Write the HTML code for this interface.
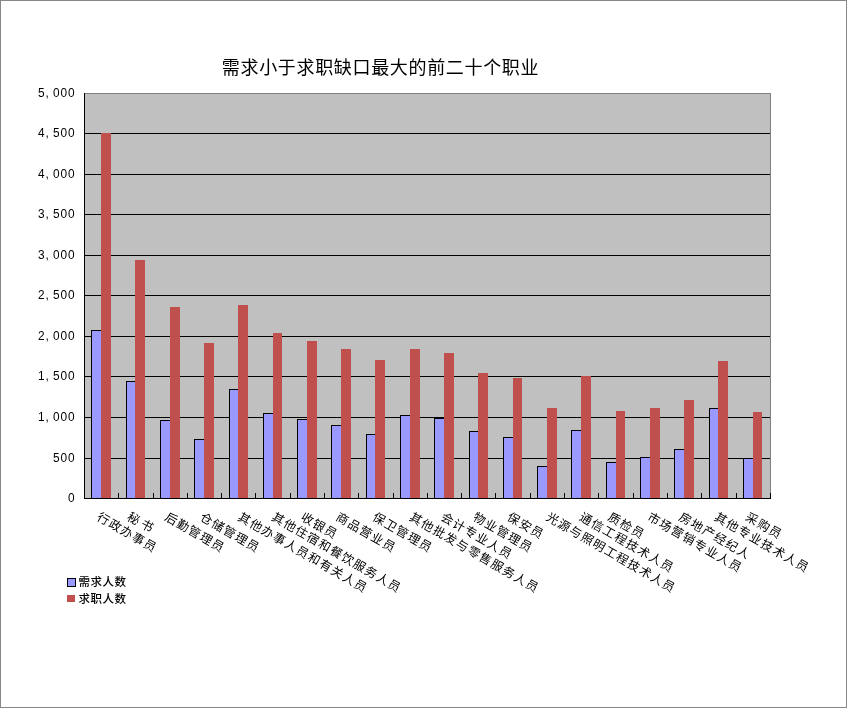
<!DOCTYPE html>
<html><head><meta charset="utf-8"><title>需求小于求职缺口最大的前二十个职业</title>
<style>
html,body{margin:0;padding:0;background:#fff;}
body{width:848px;height:708px;overflow:hidden;}
svg{display:block;}
text{fill:#000;}
.t{font-family:"Liberation Sans","Noto Sans CJK SC",sans-serif;dominant-baseline:central;}
.y{font-family:"Liberation Sans",sans-serif;font-size:13.5px;}
.x{font-family:"Liberation Sans","Noto Sans CJK SC",sans-serif;font-size:12.2px;letter-spacing:1.2px;dominant-baseline:central;}
.l{font-family:"Liberation Sans","Noto Sans CJK SC",sans-serif;font-size:11.5px;letter-spacing:0.5px;font-weight:500;dominant-baseline:central;}
</style></head><body>
<svg width="848" height="708" viewBox="0 0 848 708" shape-rendering="crispEdges">
<rect x="0.5" y="0.5" width="846" height="707" fill="#fff" stroke="#878787" stroke-width="1"/>
<rect x="84" y="93" width="687" height="406" fill="#C0C0C0"/>
<rect x="84" y="93" width="687" height="1" fill="#808080"/>
<rect x="770" y="93" width="1" height="406" fill="#808080"/>
<rect x="85" y="133" width="685" height="1" fill="#000"/>
<rect x="85" y="174" width="685" height="1" fill="#000"/>
<rect x="85" y="214" width="685" height="1" fill="#000"/>
<rect x="85" y="255" width="685" height="1" fill="#000"/>
<rect x="85" y="295" width="685" height="1" fill="#000"/>
<rect x="85" y="336" width="685" height="1" fill="#000"/>
<rect x="85" y="376" width="685" height="1" fill="#000"/>
<rect x="85" y="417" width="685" height="1" fill="#000"/>
<rect x="85" y="458" width="685" height="1" fill="#000"/>
<rect x="91" y="330" width="11" height="169" fill="#000"/>
<rect x="92" y="331" width="9" height="167" fill="#9999FF"/>
<rect x="101" y="133" width="10" height="365" fill="#C0504D"/>
<rect x="126" y="381" width="10" height="118" fill="#000"/>
<rect x="127" y="382" width="8" height="116" fill="#9999FF"/>
<rect x="135" y="260" width="10" height="238" fill="#C0504D"/>
<rect x="160" y="420" width="11" height="79" fill="#000"/>
<rect x="161" y="421" width="9" height="77" fill="#9999FF"/>
<rect x="170" y="307" width="10" height="191" fill="#C0504D"/>
<rect x="194" y="439" width="11" height="60" fill="#000"/>
<rect x="195" y="440" width="9" height="58" fill="#9999FF"/>
<rect x="204" y="343" width="10" height="155" fill="#C0504D"/>
<rect x="229" y="389" width="10" height="110" fill="#000"/>
<rect x="230" y="390" width="8" height="108" fill="#9999FF"/>
<rect x="238" y="305" width="10" height="193" fill="#C0504D"/>
<rect x="263" y="413" width="11" height="86" fill="#000"/>
<rect x="264" y="414" width="9" height="84" fill="#9999FF"/>
<rect x="273" y="333" width="9" height="165" fill="#C0504D"/>
<rect x="297" y="419" width="11" height="80" fill="#000"/>
<rect x="298" y="420" width="9" height="78" fill="#9999FF"/>
<rect x="307" y="341" width="10" height="157" fill="#C0504D"/>
<rect x="331" y="425" width="11" height="74" fill="#000"/>
<rect x="332" y="426" width="9" height="72" fill="#9999FF"/>
<rect x="341" y="349" width="10" height="149" fill="#C0504D"/>
<rect x="366" y="434" width="10" height="65" fill="#000"/>
<rect x="367" y="435" width="8" height="63" fill="#9999FF"/>
<rect x="375" y="360" width="10" height="138" fill="#C0504D"/>
<rect x="400" y="415" width="11" height="84" fill="#000"/>
<rect x="401" y="416" width="9" height="82" fill="#9999FF"/>
<rect x="410" y="349" width="10" height="149" fill="#C0504D"/>
<rect x="434" y="418" width="11" height="81" fill="#000"/>
<rect x="435" y="419" width="9" height="79" fill="#9999FF"/>
<rect x="444" y="353" width="10" height="145" fill="#C0504D"/>
<rect x="469" y="431" width="10" height="68" fill="#000"/>
<rect x="470" y="432" width="8" height="66" fill="#9999FF"/>
<rect x="478" y="373" width="10" height="125" fill="#C0504D"/>
<rect x="503" y="437" width="11" height="62" fill="#000"/>
<rect x="504" y="438" width="9" height="60" fill="#9999FF"/>
<rect x="513" y="378" width="9" height="120" fill="#C0504D"/>
<rect x="537" y="466" width="11" height="33" fill="#000"/>
<rect x="538" y="467" width="9" height="31" fill="#9999FF"/>
<rect x="547" y="408" width="10" height="90" fill="#C0504D"/>
<rect x="571" y="430" width="11" height="69" fill="#000"/>
<rect x="572" y="431" width="9" height="67" fill="#9999FF"/>
<rect x="581" y="376" width="10" height="122" fill="#C0504D"/>
<rect x="606" y="462" width="11" height="37" fill="#000"/>
<rect x="607" y="463" width="9" height="35" fill="#9999FF"/>
<rect x="616" y="411" width="9" height="87" fill="#C0504D"/>
<rect x="640" y="457" width="11" height="42" fill="#000"/>
<rect x="641" y="458" width="9" height="40" fill="#9999FF"/>
<rect x="650" y="408" width="10" height="90" fill="#C0504D"/>
<rect x="674" y="449" width="11" height="50" fill="#000"/>
<rect x="675" y="450" width="9" height="48" fill="#9999FF"/>
<rect x="684" y="400" width="10" height="98" fill="#C0504D"/>
<rect x="709" y="408" width="10" height="91" fill="#000"/>
<rect x="710" y="409" width="8" height="89" fill="#9999FF"/>
<rect x="718" y="361" width="10" height="137" fill="#C0504D"/>
<rect x="743" y="458" width="11" height="41" fill="#000"/>
<rect x="744" y="459" width="9" height="39" fill="#9999FF"/>
<rect x="753" y="412" width="9" height="86" fill="#C0504D"/>
<rect x="118" y="493" width="1" height="5" fill="#000"/>
<rect x="153" y="493" width="1" height="5" fill="#000"/>
<rect x="187" y="493" width="1" height="5" fill="#000"/>
<rect x="221" y="493" width="1" height="5" fill="#000"/>
<rect x="255" y="493" width="1" height="5" fill="#000"/>
<rect x="290" y="493" width="1" height="5" fill="#000"/>
<rect x="324" y="493" width="1" height="5" fill="#000"/>
<rect x="358" y="493" width="1" height="5" fill="#000"/>
<rect x="393" y="493" width="1" height="5" fill="#000"/>
<rect x="427" y="493" width="1" height="5" fill="#000"/>
<rect x="461" y="493" width="1" height="5" fill="#000"/>
<rect x="495" y="493" width="1" height="5" fill="#000"/>
<rect x="530" y="493" width="1" height="5" fill="#000"/>
<rect x="564" y="493" width="1" height="5" fill="#000"/>
<rect x="598" y="493" width="1" height="5" fill="#000"/>
<rect x="633" y="493" width="1" height="5" fill="#000"/>
<rect x="667" y="493" width="1" height="5" fill="#000"/>
<rect x="701" y="493" width="1" height="5" fill="#000"/>
<rect x="736" y="493" width="1" height="5" fill="#000"/>
<rect x="770" y="493" width="1" height="5" fill="#000"/>
<rect x="84" y="93" width="1" height="406" fill="#000"/>
<rect x="84" y="498" width="687" height="1" fill="#000"/>
<rect x="67" y="578" width="9" height="9" fill="#000"/>
<rect x="68" y="579" width="7" height="7" fill="#9999FF"/>
<rect x="67" y="595" width="8" height="7" fill="#C0504D"/>
<text x="221.8" y="68.1" class="t" style="font-size:18px;letter-spacing:0.67px">需求小于求职缺口最大的前二十个职业</text>
<text transform="scale(0.88,1)" x="43.18 51.70 60.23 68.75 77.27" y="97.4" class="y">5,000</text>
<text transform="scale(0.88,1)" x="43.18 51.70 60.23 68.75 77.27" y="137.4" class="y">4,500</text>
<text transform="scale(0.88,1)" x="43.18 51.70 60.23 68.75 77.27" y="178.4" class="y">4,000</text>
<text transform="scale(0.88,1)" x="43.18 51.70 60.23 68.75 77.27" y="218.4" class="y">3,500</text>
<text transform="scale(0.88,1)" x="43.18 51.70 60.23 68.75 77.27" y="259.4" class="y">3,000</text>
<text transform="scale(0.88,1)" x="43.18 51.70 60.23 68.75 77.27" y="299.4" class="y">2,500</text>
<text transform="scale(0.88,1)" x="43.18 51.70 60.23 68.75 77.27" y="340.4" class="y">2,000</text>
<text transform="scale(0.88,1)" x="43.18 51.70 60.23 68.75 77.27" y="380.4" class="y">1,500</text>
<text transform="scale(0.88,1)" x="43.18 51.70 60.23 68.75 77.27" y="421.4" class="y">1,000</text>
<text transform="scale(0.88,1)" x="60.23 68.75 77.27" y="462.4" class="y">500</text>
<text transform="scale(0.88,1)" x="77.27" y="502.4" class="y">0</text>
<text transform="translate(103.6,518.8) rotate(30)" x="-6.2" y="0.3" class="x">行政办事员</text>
<text transform="translate(133.8,518.6) rotate(28)" x="-6.2" y="0.3" class="x" style="letter-spacing:3px">秘书</text>
<text transform="translate(171.4,518.8) rotate(30)" x="-6.2" y="0.3" class="x">后勤管理员</text>
<text transform="translate(206.4,518.8) rotate(30)" x="-6.2" y="0.3" class="x">仓储管理员</text>
<text transform="translate(244.6,518.8) rotate(30)" x="-6.2" y="0.3" class="x">其他办事人员和有关人员</text>
<text transform="translate(278.3,518.8) rotate(30)" x="-6.2" y="0.3" class="x">其他住宿和餐饮服务人员</text>
<text transform="translate(307.5,518.8) rotate(30)" x="-6.2" y="0.3" class="x">收银员</text>
<text transform="translate(342.6,518.8) rotate(30)" x="-6.2" y="0.3" class="x">商品营业员</text>
<text transform="translate(379.2,518.8) rotate(30)" x="-6.2" y="0.3" class="x">保卫管理员</text>
<text transform="translate(416,518.8) rotate(30)" x="-6.2" y="0.3" class="x">其他批发与零售服务人员</text>
<text transform="translate(447.5,518.8) rotate(30)" x="-6.2" y="0.3" class="x">会计专业人员</text>
<text transform="translate(479.5,518.8) rotate(30)" x="-6.2" y="0.3" class="x">物业管理员</text>
<text transform="translate(513.8,518.8) rotate(30)" x="-6.2" y="0.3" class="x">保安员</text>
<text transform="translate(552.7,518.8) rotate(30)" x="-6.2" y="0.3" class="x">光源与照明工程技术人员</text>
<text transform="translate(585.9,518.8) rotate(30)" x="-6.2" y="0.3" class="x">通信工程技术人员</text>
<text transform="translate(614.5,518.8) rotate(30)" x="-6.2" y="0.3" class="x">质检员</text>
<text transform="translate(654,518.8) rotate(30)" x="-6.2" y="0.3" class="x">市场营销专业人员</text>
<text transform="translate(685.5,518.8) rotate(30)" x="-6.2" y="0.3" class="x">房地产经纪人</text>
<text transform="translate(721,518.8) rotate(30)" x="-6.2" y="0.3" class="x">其他专业技术人员</text>
<text transform="translate(752.1,518.8) rotate(30)" x="-6.2" y="0.3" class="x">采购员</text>
<text x="78.5" y="582" class="l">需求人数</text>
<text x="78.5" y="598.5" class="l">求职人数</text>
</svg>
</body></html>
